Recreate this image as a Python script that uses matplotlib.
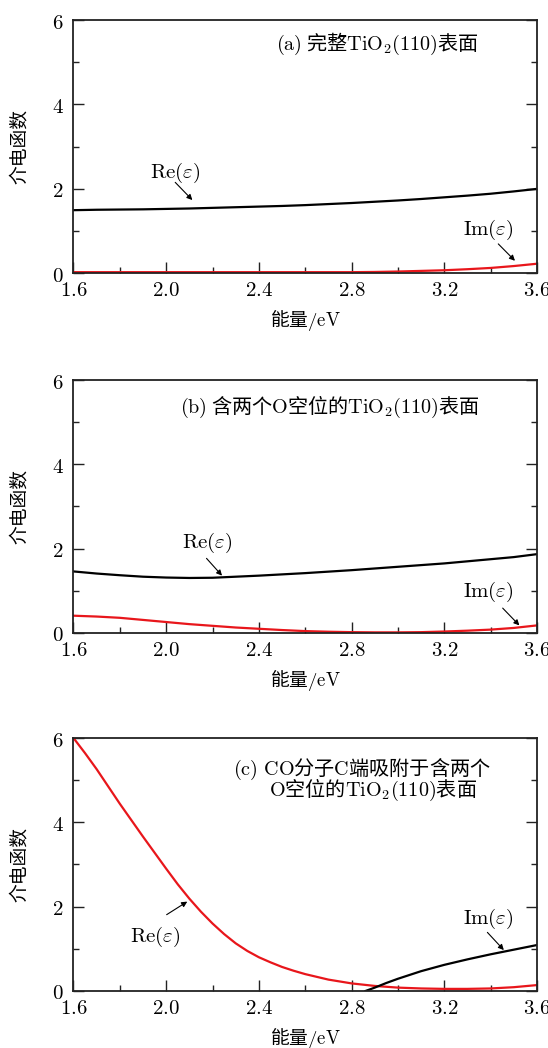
import numpy as np
import matplotlib
matplotlib.use("Agg")
import matplotlib.pyplot as plt
from matplotlib.ticker import MultipleLocator, FormatStrFormatter

plt.rcParams['font.family'] = ['Noto Sans CJK SC', 'DejaVu Sans']
plt.rcParams['mathtext.fontset'] = 'cm'

# energy grid (eV)
energy = [1.6, 1.7, 1.8, 1.9, 2.0, 2.1, 2.2, 2.3, 2.4, 2.5, 2.6,
          2.7, 2.8, 2.9, 3.0, 3.1, 3.2, 3.3, 3.4, 3.5, 3.6]

# (a) perfect surface
re_a = [1.49, 1.50, 1.505, 1.51, 1.52, 1.53, 1.545, 1.56, 1.575, 1.59, 1.61,
        1.635, 1.66, 1.69, 1.72, 1.755, 1.795, 1.835, 1.88, 1.935, 1.995]
im_a = [0.02, 0.02, 0.02, 0.02, 0.02, 0.02, 0.02, 0.02, 0.02, 0.02, 0.02,
        0.02, 0.02, 0.025, 0.035, 0.05, 0.065, 0.09, 0.12, 0.165, 0.22]

# (b) surface with two O vacancies
re_b = [1.46, 1.41, 1.37, 1.335, 1.315, 1.305, 1.31, 1.335, 1.36, 1.39, 1.42,
        1.455, 1.49, 1.53, 1.57, 1.61, 1.65, 1.70, 1.75, 1.80, 1.87]
im_b = [0.41, 0.39, 0.36, 0.31, 0.26, 0.21, 0.17, 0.13, 0.10, 0.07, 0.045,
        0.03, 0.02, 0.015, 0.015, 0.02, 0.035, 0.055, 0.08, 0.12, 0.18]

# (c) CO adsorbed (C end) on the vacancy surface
energy_c = [1.6, 1.65, 1.7, 1.75, 1.8, 1.85, 1.9, 1.95, 2.0, 2.05, 2.1,
            2.15, 2.2, 2.25, 2.3, 2.35, 2.4, 2.45, 2.5, 2.55, 2.6,
            2.7, 2.8, 2.9, 3.0, 3.1, 3.2, 3.3, 3.4, 3.5, 3.6]
re_c = [6.0, 5.64, 5.26, 4.85, 4.44, 4.05, 3.66, 3.28, 2.9, 2.53, 2.19,
        1.88, 1.6, 1.35, 1.13, 0.95, 0.8, 0.68, 0.57, 0.48, 0.40,
        0.27, 0.18, 0.12, 0.08, 0.06, 0.05, 0.05, 0.06, 0.09, 0.14]
energy_im_c = [2.86, 2.9, 2.95, 3.0, 3.1, 3.2, 3.3, 3.4, 3.5, 3.6]
im_c = [0.0, 0.08, 0.19, 0.29, 0.47, 0.62, 0.75, 0.87, 0.98, 1.09]

red = '#e8161b'
arrow = dict(arrowstyle='-|>', color='k', lw=0.8, mutation_scale=8,
             shrinkA=0, shrinkB=0)
tick_size = 15
note_size = 15
title_size = 14.5
label_size = 13.5

fig = plt.figure(figsize=(5.48, 10.48), dpi=100)
bottoms = [0.7395, 0.396, 0.0544]
axes = [fig.add_axes([0.1341, b, 0.8458, 0.2414]) for b in bottoms]


def style(ax):
    ax.set_xlim(1.6, 3.6)
    ax.set_ylim(0, 6)
    ax.xaxis.set_major_locator(MultipleLocator(0.4))
    ax.xaxis.set_minor_locator(MultipleLocator(0.2))
    ax.yaxis.set_major_locator(MultipleLocator(2))
    ax.yaxis.set_minor_locator(MultipleLocator(1))
    ax.xaxis.set_major_formatter(FormatStrFormatter('$%.1f$'))
    ax.yaxis.set_major_formatter(FormatStrFormatter('$%d$'))
    ax.tick_params(which='both', direction='in', top=False, right=True,
                   width=1.0, color='#222222', labelsize=tick_size)
    ax.tick_params(which='major', length=8, pad=4)
    ax.tick_params(which='minor', length=4.5)
    ax.tick_params(axis='y', which='major', pad=7)
    for s in ax.spines.values():
        s.set_linewidth(1.3)
        s.set_color('#222222')
    ax.set_xlabel(r'能量$\mathrm{/eV}$', fontsize=label_size)
    ax.set_ylabel('介电函数', fontsize=label_size)
    ax.yaxis.set_label_coords(-0.095, 0.5)
    ax.xaxis.set_label_coords(0.5, -0.14)


def note(ax, label, xy_text, tail, head):
    ax.text(xy_text[0], xy_text[1], label, fontsize=note_size,
            ha='center', va='center')
    ax.annotate('', xy=head, xytext=tail, arrowprops=arrow)


ax = axes[0]
ax.plot(energy, re_a, color='k', lw=1.6)
ax.plot(energy, im_a, color=red, lw=1.6)
ax.text(2.475, 5.43, r'$\mathrm{(a)}$ 完整$\mathrm{TiO_2(110)}$表面',
        fontsize=title_size, ha='left', va='center')
note(ax, r'$\mathrm{Re}(\varepsilon)$', (2.04, 2.38), (2.039, 2.15), (2.113, 1.73))
note(ax, r'$\mathrm{Im}(\varepsilon)$', (3.39, 1.02), (3.433, 0.69), (3.505, 0.29))
style(ax)

ax = axes[1]
ax.plot(energy, re_b, color='k', lw=1.6)
ax.plot(energy, im_b, color=red, lw=1.6)
ax.text(2.06, 5.37, r'$\mathrm{(b)}$ 含两个$\mathrm{O}$空位的$\mathrm{TiO_2(110)}$表面',
        fontsize=title_size, ha='left', va='center')
note(ax, r'$\mathrm{Re}(\varepsilon)$', (2.178, 2.13), (2.174, 1.77), (2.241, 1.36))
note(ax, r'$\mathrm{Im}(\varepsilon)$', (3.392, 0.98), (3.452, 0.59), (3.524, 0.18))
style(ax)

ax = axes[2]
ax.plot(energy_c, re_c, color=red, lw=1.6)
ax.plot(energy_im_c, im_c, color='k', lw=1.6)
ax.text(2.287, 5.26, r'$\mathrm{(c)\ CO}$分子$\mathrm{C}$端吸附于含两个',
        fontsize=title_size, ha='left', va='center')
ax.text(2.445, 4.76, r'$\mathrm{O}$空位的$\mathrm{TiO_2(110)}$表面',
        fontsize=title_size, ha='left', va='center')
note(ax, r'$\mathrm{Re}(\varepsilon)$', (1.952, 1.29), (2.002, 1.81), (2.091, 2.12))
note(ax, r'$\mathrm{Im}(\varepsilon)$', (3.392, 1.70), (3.386, 1.39), (3.457, 0.97))
style(ax)

fig.savefig('out.png', dpi=100)
